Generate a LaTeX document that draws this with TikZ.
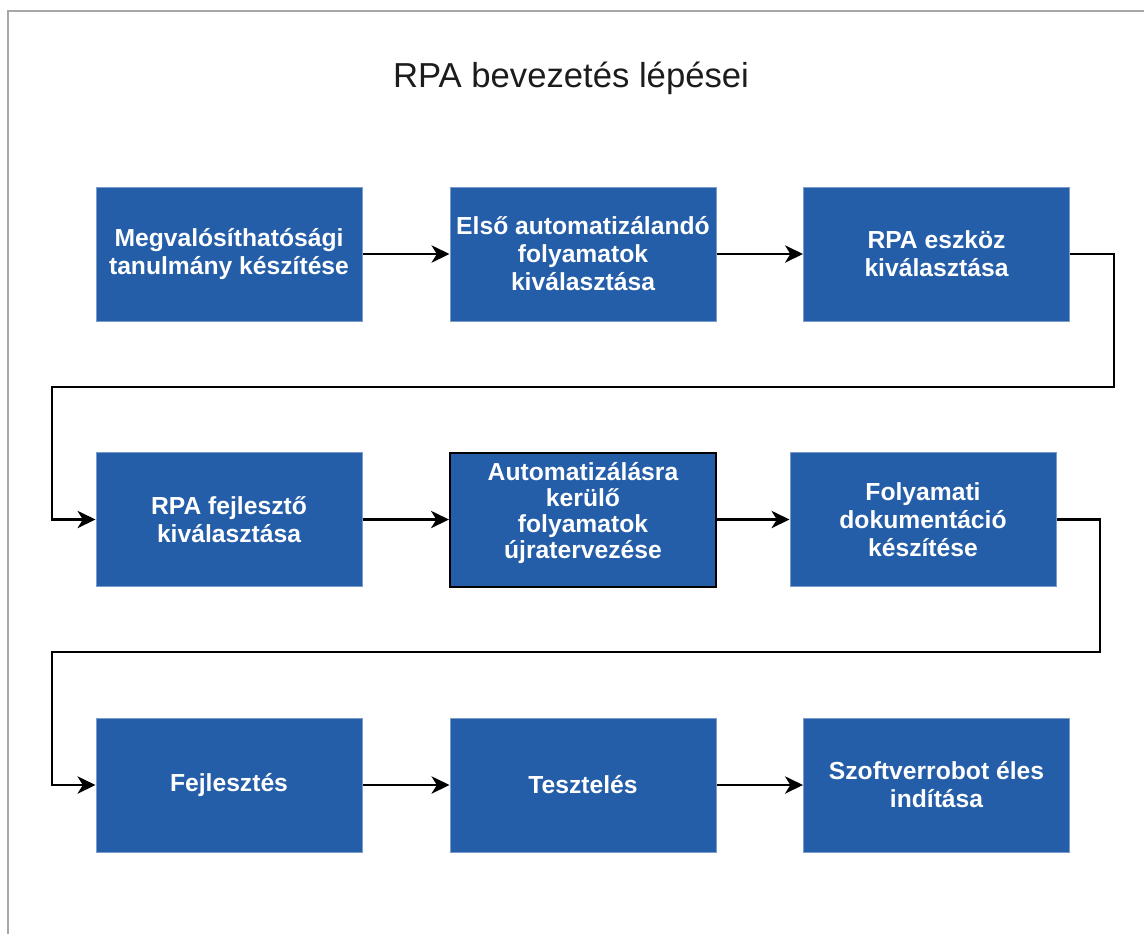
\documentclass[tikz,border=0pt]{standalone}
\usepackage{fontspec}
\setmainfont{Liberation Sans}
\usetikzlibrary{arrows.meta}
\definecolor{boxblue}{HTML}{245DA8}
\definecolor{boxedge}{HTML}{7A9CCB}
\definecolor{framegray}{HTML}{A4A8A8}
\definecolor{titlecol}{HTML}{1C1C1C}
\tikzset{
  stepbox/.style={draw=boxedge, line width=0.75pt, fill=boxblue, rectangle,
    minimum width=199.5pt, minimum height=100.5pt, inner sep=0pt,
    align=center, text=white,
    font=\fontsize{18.5}{21}\selectfont\bfseries},
  conn/.style={draw=black, line width=1.6pt,
    -{Stealth[length=13.5pt,width=13pt,inset=4pt]}},
}
\begin{document}
\begin{tikzpicture}[x=0.75pt,y=-0.75pt]
\useasboundingbox (0,0) rectangle (1144,933);
\fill[white] (0,0) rectangle (1144,933);
\draw[framegray, line width=1.5pt] (8,940) -- (8,11) -- (1150,11);

\node[text=titlecol, font=\fontsize{26}{30}\selectfont] (title) at (571,78) {RPA bevezetés lépései};

\node[stepbox] (b1) at (229,254) {Megvalósíthatósági\\tanulmány készítése};
\node[stepbox] (b2) at (583,254) {Első automatizálandó\\folyamatok\\kiválasztása};
\node[stepbox] (b3) at (936.5,254) {RPA eszköz\\kiválasztása};

\node[stepbox] (b4) at (229,519.5) {RPA fejlesztő\\kiválasztása};
\node[stepbox, draw=black, line width=1.5pt, font=\fontsize{18.5}{19.5}\selectfont\bfseries] (b5) at (583,519.5) {Automatizálásra\\kerülő\\folyamatok\\újratervezése\\[-6pt]};
\node[stepbox] (b6) at (923,519.5) {Folyamati\\dokumentáció\\készítése};

\node[stepbox] (b7) at (229,785) {Fejlesztés};
\node[stepbox] (b8) at (583,785) {Tesztelés};
\node[stepbox] (b9) at (936.5,785) {Szoftverrobot éles\\indítása};

\coordinate (k1) at (1114,387);
\coordinate (k2) at (52,387);
\coordinate (k3) at (1100,652);
\coordinate (k4) at (52,652);

\draw[conn] (b1.east) -- (b2.west);
\draw[conn] (b2.east) -- (b3.west);
\draw[conn] (b3.east) -| (k1) -- (k2) |- (b4.west);
\draw[conn] (b4.east) -- (b5.west);
\draw[conn] (b5.east) -- (b6.west);
\draw[conn] (b6.east) -| (k3) -- (k4) |- (b7.west);
\draw[conn] (b7.east) -- (b8.west);
\draw[conn] (b8.east) -- (b9.west);
\end{tikzpicture}
\end{document}
